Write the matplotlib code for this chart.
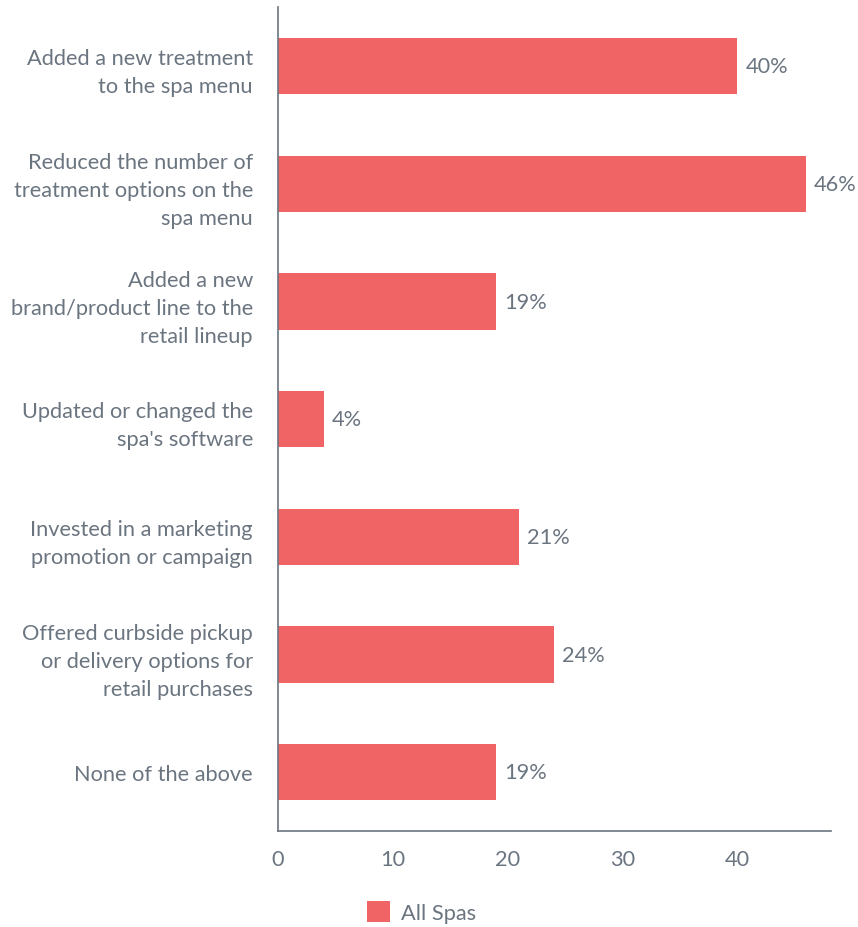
import numpy as np
import matplotlib.pyplot as plt

plt.rcParams['font.family'] = ['Lato', 'DejaVu Sans']

categories = [
    'Added a new treatment\nto the spa menu',
    'Reduced the number of\ntreatment options on the\nspa menu',
    'Added a new\nbrand/product line to the\nretail lineup',
    "Updated or changed the\nspa's software",
    'Invested in a marketing\npromotion or campaign',
    'Offered curbside pickup\nor delivery options for\nretail purchases',
    'None of the above',
]
values = [40, 46, 19, 4, 21, 24, 19]
series_name = 'All Spas'

bar_color = '#f06466'
text_color = '#6b7580'
fs = 15.7

fig = plt.figure(figsize=(8.58, 9.28), dpi=100)
ax = fig.add_axes([0.324, 0.1034, 0.645, 0.8876])

y = np.arange(len(categories))
bars = ax.barh(y, values, height=0.48, color=bar_color, label=series_name)
for b, v in zip(bars, values):
    ax.text(b.get_width() + 0.7, b.get_y() + b.get_height() / 2, f'{v}%',
            va='center', ha='left', fontsize=fs, color=text_color)

ax.set_xlim(0, 48.2)
ax.set_ylim(len(categories) - 0.5, -0.5)
ax.set_yticks(y)
ax.set_yticklabels(categories, fontsize=fs, color=text_color, linespacing=1.5)
ax.set_xticks([0, 10, 20, 30, 40])
ax.tick_params(axis='x', length=0, pad=13, labelsize=fs, labelcolor=text_color)
ax.tick_params(axis='y', length=0, pad=18)

for s in ['top', 'right']:
    ax.spines[s].set_visible(False)
for s in ['left', 'bottom']:
    ax.spines[s].set_color(text_color)
    ax.spines[s].set_linewidth(1.2)

fig.legend(handles=[bars], labels=[series_name], loc='center',
           bbox_to_anchor=(0.491, 0.016), frameon=False, fontsize=fs,
           labelcolor=text_color, handlelength=1.05, handleheight=1.05,
           handletextpad=0.5)

fig.savefig('out.png', dpi=100)
